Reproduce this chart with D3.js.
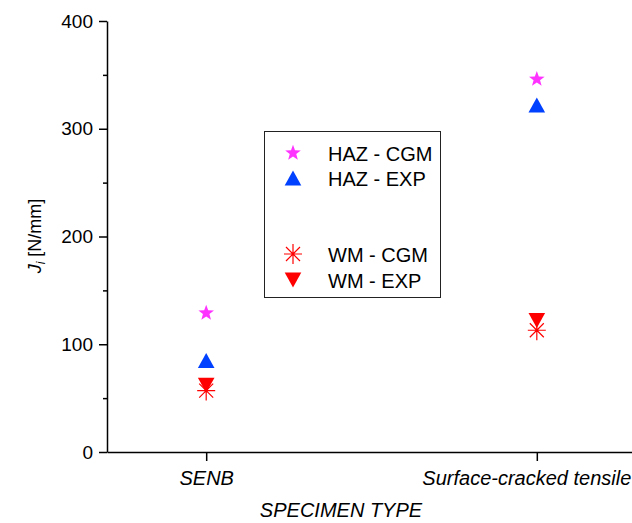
<!DOCTYPE html>
<html><head><meta charset="utf-8">
<script src="https://cdn.jsdelivr.net/npm/d3@7/dist/d3.min.js"></script>
<style>body{margin:0;background:#fff}svg{display:block}text{font-family:"Liberation Sans",Arial,sans-serif}</style>
</head><body><svg id="c" width="632" height="523"></svg>
<script>
const categories = ["SENB", "Surface-cracked tensile"];
const hazCGM = [129, 346];
const hazEXP = [85, 322];
const wmCGM = [57, 113];
const wmEXP = [62, 122];
const yTicks = [0, 100, 200, 300, 400];
const yMinorTicks = [50, 150, 250, 350];
const seriesNames = ["HAZ - CGM", "HAZ - EXP", "WM - CGM", "WM - EXP"];

const svg = d3.select("#c");
const x = d3.scaleLinear().domain([0.7, 2.3]).range([107, 636]);
const y = d3.scaleLinear().domain([0, 400]).range([452, 21]);

// axes
const yAxis = svg.append("g").attr("transform", "translate(107,0)")
  .call(d3.axisLeft(y).tickValues(yTicks).tickSize(8).tickPadding(6).tickSizeOuter(0));
svg.append("g").attr("transform", "translate(107,0)")
  .call(d3.axisLeft(y).tickValues(yMinorTicks).tickSize(4).tickFormat("").tickSizeOuter(0))
  .select(".domain").remove();
yAxis.selectAll("text").attr("font-size", 19).attr("font-family", "Liberation Sans, Arial, sans-serif").attr("fill", "#000");
const xAxis = svg.append("g").attr("transform", "translate(0,452)")
  .call(d3.axisBottom(x).tickValues([1, 2]).tickSize(9).tickSizeOuter(0).tickFormat((d) => categories[d - 1]).tickPadding(10));
xAxis.selectAll("text").attr("font-size", 20).attr("font-style", "italic").attr("font-family", "Liberation Sans, Arial, sans-serif").attr("fill", "#000");
xAxis.selectAll(".tick").filter((d) => d === 2).select("text").attr("text-anchor", "end").attr("x", 94);
svg.selectAll(".domain, .tick line").attr("stroke", "#000").attr("stroke-width", 1.5);

// axis titles
svg.append("text").attr("x", 341).attr("y", 517).attr("text-anchor", "middle")
  .attr("font-size", 20).attr("font-style", "italic").text("SPECIMEN TYPE");
const yl = svg.append("text").attr("transform", "translate(41,236) rotate(-90)").attr("text-anchor", "middle").attr("font-size", 18);
yl.append("tspan").attr("font-style", "italic").text("J");
yl.append("tspan").attr("font-style", "italic").attr("font-size", 12).attr("dy", 4).text("i");
yl.append("tspan").attr("dy", -4).text(" [N/mm]");

// marker paths
function starPath(R, r) {
  let p = "";
  for (let i = 0; i < 10; i++) {
    const a = -Math.PI / 2 + i * Math.PI / 5;
    const rr = i % 2 ? r : R;
    p += (i ? "L" : "M") + (rr * Math.cos(a)).toFixed(2) + "," + (rr * Math.sin(a)).toFixed(2);
  }
  return p + "Z";
}
const triUp = "M0,-7.5L8.3,7.5L-8.3,7.5Z";
const triDown = "M0,7.5L8.3,-7.5L-8.3,-7.5Z";
const ast = "M-9,0L9,0M0,-10L0,10M-7,-7L7,7M-7,7L7,-7";
const styles = [
  {d: starPath(8.2, 3.4), fill: "#ff33ff", stroke: "none"},
  {d: triUp, fill: "#0040ff", stroke: "none"},
  {d: ast, fill: "none", stroke: "#ff0000"},
  {d: triDown, fill: "#ff0000", stroke: "none"}
];
const seriesData = [hazCGM, hazEXP, wmCGM, wmEXP];
const drawOrder = [0, 1, 3, 2];
drawOrder.forEach((si) => {
  const st = styles[si];
  svg.append("g").selectAll("path").data(seriesData[si]).join("path")
    .attr("transform", (d, i) => `translate(${x(i + 1)},${y(d)})`)
    .attr("d", st.d).attr("fill", st.fill).attr("stroke", st.stroke).attr("stroke-width", 1.2);
});

// legend
const lg = svg.append("g");
lg.append("rect").attr("x", 264.5).attr("y", 131.5).attr("width", 176).attr("height", 166)
  .attr("fill", "#fff").attr("stroke", "#222").attr("stroke-width", 1);
const legY = [153, 178, 254, 280];
seriesNames.forEach((n, i) => {
  const st = styles[i];
  lg.append("path").attr("transform", `translate(293,${legY[i]})`).attr("d", st.d)
    .attr("fill", st.fill).attr("stroke", st.stroke).attr("stroke-width", 1.2);
  lg.append("text").attr("x", 328).attr("y", legY[i] + 7.5).attr("font-size", 20).attr("fill", "#000").text(n);
});
</script></body></html>
